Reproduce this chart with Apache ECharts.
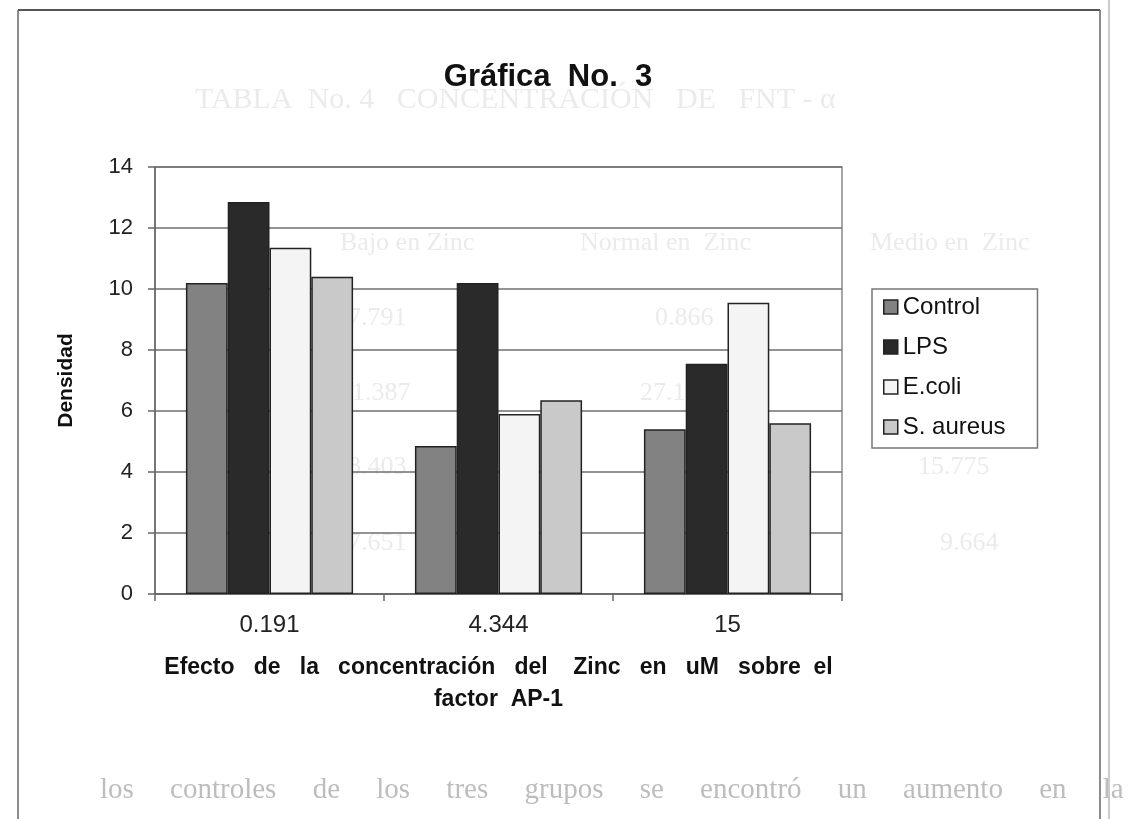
<!DOCTYPE html>
<html>
<head>
<meta charset="utf-8">
<script src="https://cdn.jsdelivr.net/npm/echarts@6/dist/echarts.min.js"></script>
<style>
html,body{margin:0;padding:0;background:#fff;}
#chart{width:1141px;height:819px;}
</style>
</head>
<body>
<div id="chart"></div>
<script>
// ---- data ----
const categories = ['0.191', '4.344', '15'];
const seriesNames = ['Control', 'LPS', 'E.coli', 'S. aureus'];
const controlValues = [10.2, 4.85, 5.4];
const lpsValues = [12.85, 10.2, 7.55];
const ecoliValues = [11.35, 5.9, 9.55];
const saureusValues = [10.4, 6.35, 5.6];
const yTicks = [0, 2, 4, 6, 8, 10, 12, 14];

const titleText = 'Gráfica  No.  3';
const yAxisName = 'Densidad';
const xAxisName = 'Efecto   de   la   concentración   del    Zinc   en   uM   sobre  el\nfactor  AP-1';

// faint bleed-through text from the scanned page
const ghostTexts = [
  ['TABLA  No. 4   CONCENTRACIÓN   DE   FNT - α', 195, 100, 30],
  ['Bajo en Zinc', 340, 243, 26],
  ['Normal en  Zinc', 580, 243, 26],
  ['Medio en  Zinc', 870, 243, 26],
  ['7.791', 348, 318, 26],
  ['0.866', 655, 318, 26],
  ['1.656', 925, 318, 26],
  ['11.387', 340, 393, 26],
  ['27.16', 640, 393, 26],
  ['25.945', 918, 393, 26],
  ['8.403', 348, 467, 26],
  ['17.', 650, 467, 26],
  ['15.775', 918, 467, 26],
  ['7.651', 348, 543, 26],
  ['9.664', 940, 543, 26]
];
const bottomText = 'los     controles     de     los     tres     grupos     se     encontró     un     aumento     en     la';

const FONT = 'Liberation Sans, Arial, sans-serif';
const colors = ['#828282', '#2a2a2a', '#f4f4f4', '#c9c9c9'];
const valueLists = [controlValues, lpsValues, ecoliValues, saureusValues];

const chart = echarts.init(document.getElementById('chart'), null, {renderer: 'canvas'});

const graphics = [
  // page frame
  {type: 'line', shape: {x1: 18, y1: 10, x2: 1100, y2: 10}, style: {stroke: '#555', lineWidth: 2}, z: 0},
  {type: 'line', shape: {x1: 18, y1: 10, x2: 18, y2: 819}, style: {stroke: '#666', lineWidth: 1.5}, z: 0},
  {type: 'line', shape: {x1: 1100, y1: 10, x2: 1100, y2: 819}, style: {stroke: '#666', lineWidth: 1.5}, z: 0},
  {type: 'line', shape: {x1: 1109, y1: 0, x2: 1109, y2: 819}, style: {stroke: '#bbb', lineWidth: 1.5}, z: 0},
  {type: 'text', style: {text: bottomText, x: 100, y: 790, fill: '#bdbdbd', font: '29px Liberation Serif, serif', textVerticalAlign: 'middle'}, z: 0}
];
ghostTexts.forEach(function (g) {
  graphics.push({type: 'text', z: -1, silent: true,
    style: {text: g[0], x: g[1], y: g[2], fill: '#ebebeb', font: g[3] + 'px Liberation Serif, serif', textVerticalAlign: 'middle'}});
});

const option = {
  backgroundColor: '#ffffff',
  animation: false,
  title: {
    text: titleText,
    left: 543,
    top: 57,
    textAlign: 'center',
    textStyle: {fontFamily: FONT, fontWeight: 'bold', fontSize: 31, color: '#111'}
  },
  legend: {
    orient: 'vertical',
    left: 872,
    top: 289,
    data: seriesNames,
    icon: 'rect',
    itemWidth: 14,
    itemHeight: 14,
    itemGap: 14,
    itemTextGap: 9,
    padding: [5, 32, 8, 11],
    borderColor: '#777',
    borderWidth: 1.5,
    backgroundColor: '#fff',
    textStyle: {fontFamily: FONT, fontSize: 24, color: '#111', lineHeight: 22, padding: [0, 0, 4, 0]},
    itemStyle: {borderColor: '#222', borderWidth: 1.5}
  },
  grid: {
    left: 155,
    right: 299,
    top: 167,
    bottom: 225,
    show: true,
    borderColor: '#8a8a8a',
    borderWidth: 1.5,
    backgroundColor: 'transparent'
  },
  xAxis: {
    type: 'category',
    data: categories,
    name: xAxisName,
    nameLocation: 'middle',
    nameGap: 58,
    nameTextStyle: {fontFamily: FONT, fontWeight: 'bold', fontSize: 23, color: '#111', lineHeight: 32, align: 'center'},
    axisLine: {lineStyle: {color: '#666', width: 1.5}},
    axisTick: {show: true, length: 7, lineStyle: {color: '#666', width: 1.5}},
    axisLabel: {fontFamily: FONT, fontSize: 24, color: '#222', margin: 19}
  },
  yAxis: {
    type: 'value',
    min: 0,
    max: 14,
    interval: 2,
    name: yAxisName,
    nameLocation: 'middle',
    nameGap: 78,
    nameRotate: 90,
    nameTextStyle: {fontFamily: FONT, fontWeight: 'bold', fontSize: 21, color: '#111'},
    axisLine: {show: true, lineStyle: {color: '#666', width: 1.5}},
    axisTick: {show: true, length: 7, lineStyle: {color: '#666', width: 1.5}},
    axisLabel: {fontFamily: FONT, fontSize: 22, color: '#222', margin: 22,
      formatter: function (v) { return yTicks.indexOf(v) >= 0 ? String(v) : ''; }},
    splitLine: {show: true, lineStyle: {color: '#6f6f6f', width: 1.5}}
  },
  graphic: graphics,
  series: seriesNames.map(function (name, i) {
    return {
      name: name,
      type: 'bar',
      data: valueLists[i],
      barGap: '0%',
      barCategoryGap: '27%',
      itemStyle: {color: colors[i], borderColor: '#222', borderWidth: 1.5},
      z: 3
    };
  })
};
chart.setOption(option);
</script>
</body>
</html>
